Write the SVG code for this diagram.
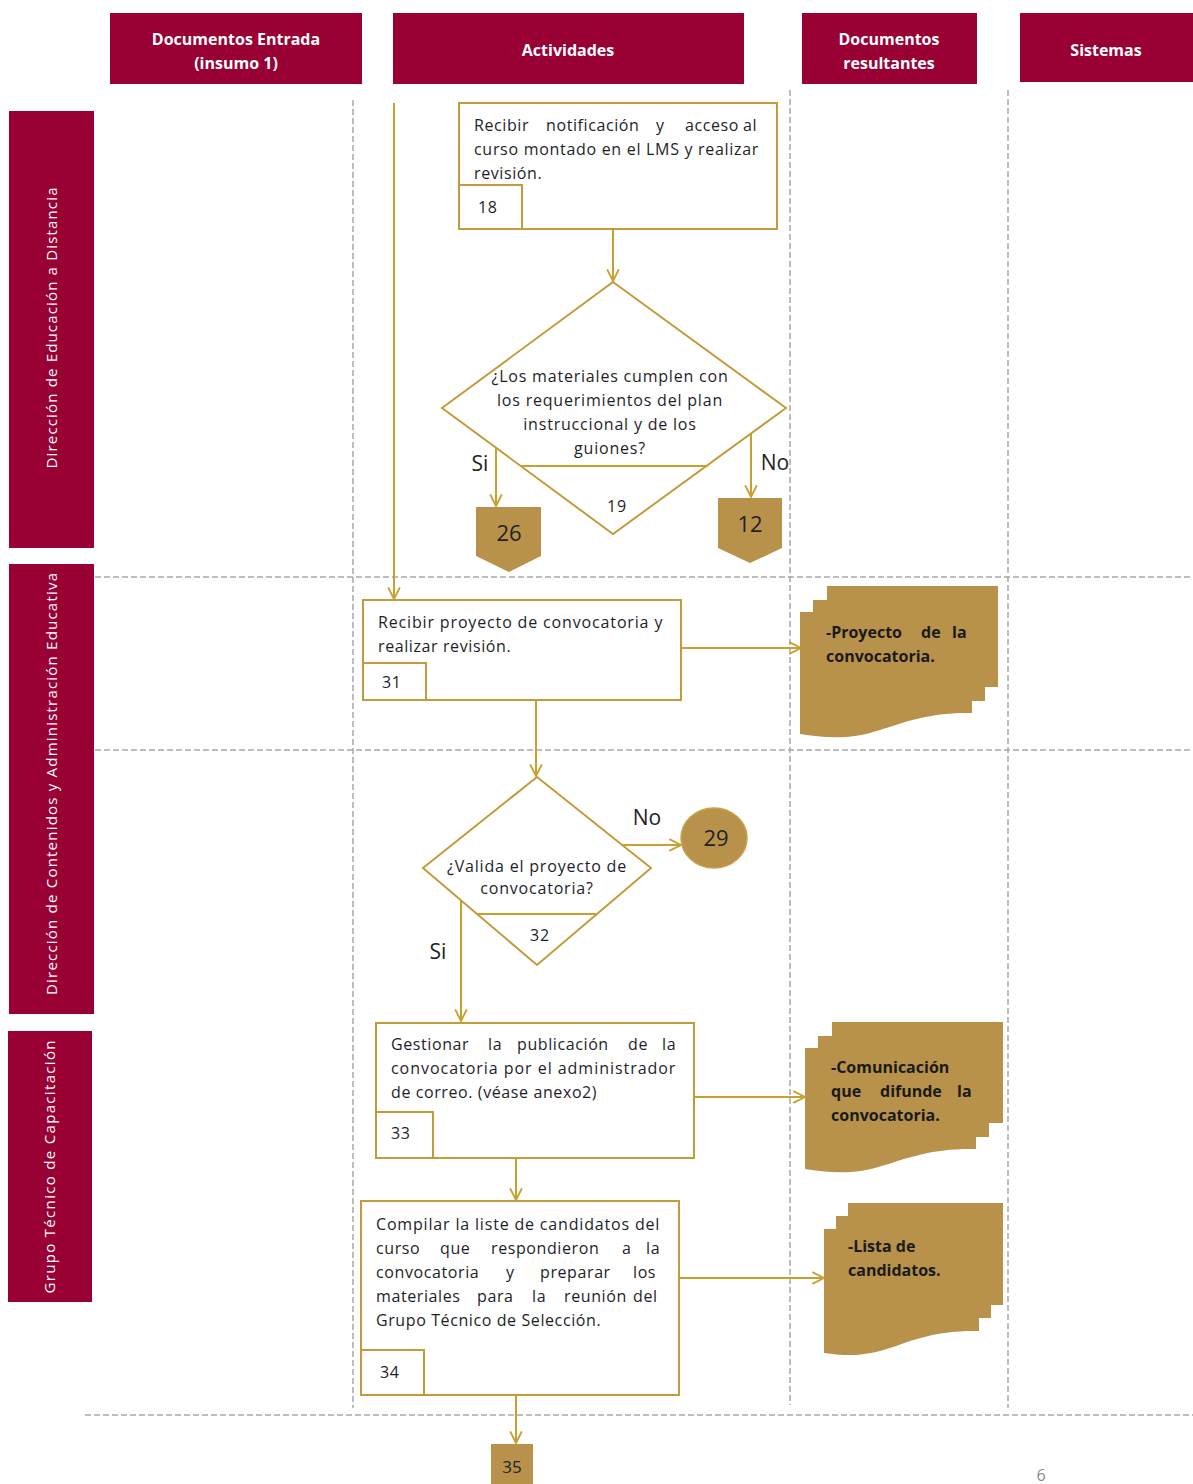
<svg xmlns="http://www.w3.org/2000/svg" width="1193" height="1484" viewBox="0 0 1193 1484">
<style>
.hdr{fill:#990033;}
.ht{font-family:"Open Sans","Liberation Sans",sans-serif;font-size:16px;font-weight:bold;fill:#ffffff;text-anchor:middle;}
.lt{font-family:"Open Sans","Liberation Sans",sans-serif;font-size:15px;fill:#ffffff;text-anchor:middle;}
.box{fill:#ffffff;stroke:#c49b3b;stroke-width:2;}
.tx{font-family:"Open Sans","Liberation Sans",sans-serif;font-size:16px;letter-spacing:0.6px;fill:#1e1e2a;}
.txc{font-family:"Open Sans","Liberation Sans",sans-serif;font-size:16px;letter-spacing:0.8px;fill:#1e1e2a;text-anchor:middle;}
.dt{font-family:"Open Sans","Liberation Sans",sans-serif;font-size:16px;font-weight:bold;fill:#1a1a1a;}
.big{font-family:"Open Sans","Liberation Sans",sans-serif;font-size:22px;fill:#222222;text-anchor:middle;}
.yn{font-family:"Open Sans","Liberation Sans",sans-serif;font-size:21px;fill:#222222;text-anchor:middle;}
.gold{fill:#b8924a;}
.dash{stroke:#a8a8a8;stroke-width:1.5;stroke-dasharray:6 3;fill:none;}
.con{stroke:#c8a02f;stroke-width:2;fill:none;}
</style>
<defs>
<marker id="arr" viewBox="0 0 12 12" refX="11" refY="6" markerWidth="14" markerHeight="14" markerUnits="userSpaceOnUse" orient="auto">
<path d="M1,1 L11,6 L1,11" fill="none" stroke="#c8a02f" stroke-width="1.6"/>
</marker>
</defs>
<rect width="1193" height="1484" fill="#ffffff"/>

<g id="headers">
<rect class="hdr" x="110" y="13" width="252" height="71"/>
<text class="ht" x="236" y="45">Documentos Entrada</text>
<text class="ht" x="236" y="69">(insumo 1)</text>
<rect class="hdr" x="393" y="13" width="351" height="71"/>
<text class="ht" x="568" y="56">Actividades</text>
<rect class="hdr" x="802" y="13" width="175" height="71"/>
<text class="ht" x="889" y="45">Documentos</text>
<text class="ht" x="889" y="69">resultantes</text>
<rect class="hdr" x="1020" y="13" width="173" height="69"/>
<text class="ht" x="1106" y="56">Sistemas</text>
</g>

<g id="lanes">
<rect class="hdr" x="9" y="111" width="85" height="437"/>
<text class="lt" transform="translate(57,328) rotate(-90)" textLength="281" lengthAdjust="spacing">Dirección de Educación a Distancia</text>
<rect class="hdr" x="9" y="564" width="85" height="450"/>
<text class="lt" transform="translate(57,784) rotate(-90)" textLength="422" lengthAdjust="spacing">Dirección de Contenidos y Administración Educativa</text>
<rect class="hdr" x="8" y="1031" width="84" height="271"/>
<text class="lt" transform="translate(55,1167) rotate(-90)" textLength="253" lengthAdjust="spacing">Grupo Técnico de Capacitación</text>
</g>

<g id="gridlines">
<line class="dash" x1="353" y1="100" x2="353" y2="1408"/>
<line class="dash" x1="790" y1="90" x2="790" y2="1405"/>
<line class="dash" x1="1008" y1="90" x2="1008" y2="1408"/>
<line class="dash" x1="95" y1="577" x2="1193" y2="577"/>
<line class="dash" x1="95" y1="750" x2="1193" y2="750"/>
<line class="dash" x1="85" y1="1415" x2="1193" y2="1415"/>
</g>

<g id="connectors">
<line class="con" x1="394" y1="103" x2="394" y2="599" marker-end="url(#arr)"/>
<line class="con" x1="613" y1="229" x2="613" y2="281" marker-end="url(#arr)"/>
<line class="con" x1="496" y1="448" x2="496" y2="506" marker-end="url(#arr)"/>
<line class="con" x1="751" y1="434" x2="751" y2="497" marker-end="url(#arr)"/>
<line class="con" x1="681" y1="648" x2="801" y2="648" marker-end="url(#arr)"/>
<line class="con" x1="536" y1="700" x2="536" y2="776" marker-end="url(#arr)"/>
<line class="con" x1="622" y1="845" x2="681" y2="845" marker-end="url(#arr)"/>
<line class="con" x1="461" y1="900" x2="461" y2="1021" marker-end="url(#arr)"/>
<line class="con" x1="694" y1="1097" x2="805" y2="1097" marker-end="url(#arr)"/>
<line class="con" x1="516" y1="1158" x2="516" y2="1200" marker-end="url(#arr)"/>
<line class="con" x1="679" y1="1278" x2="824" y2="1278" marker-end="url(#arr)"/>
<line class="con" x1="516" y1="1395" x2="516" y2="1443" marker-end="url(#arr)"/>
<text class="yn" x="480" y="471">Si</text>
<text class="yn" x="775" y="470">No</text>
<text class="yn" x="647" y="825">No</text>
<text class="yn" x="438" y="959">Si</text>
</g>

<g id="n18">
<rect class="box" x="459" y="103" width="318" height="126"/>
<text class="tx" y="131"><tspan x="474">Recibir</tspan> <tspan x="546">notificación</tspan> <tspan x="656">y</tspan> <tspan x="685">acceso</tspan> <tspan x="743">al</tspan></text>
<text class="tx" x="474" y="155" textLength="285" lengthAdjust="spacing">curso montado en el LMS y realizar</text>
<text class="tx" x="474" y="179">revisión.</text>
<rect class="box" x="459" y="185" width="63" height="44"/>
<text class="tx" x="478" y="213">18</text>
</g>

<g id="n19">
<polygon class="box" points="613,282 786,408 613,534 442,408"/>
<line class="con" x1="520" y1="466" x2="708" y2="466"/>
<text class="txc" x="610" y="382">¿Los materiales cumplen con</text>
<text class="txc" x="610" y="406">los requerimientos del plan</text>
<text class="txc" x="610" y="430">instruccional y de los</text>
<text class="txc" x="610" y="454">guiones?</text>
<text class="txc" x="617" y="512">19</text>
</g>

<g id="c26">
<path class="gold" d="M476,507 H541 V556 L509,572 L476,556 Z"/>
<text class="big" x="509" y="541">26</text>
</g>

<g id="c12">
<path class="gold" d="M718,498 H782 V548 L750,563 L718,548 Z"/>
<text class="big" x="750" y="532">12</text>
</g>

<g id="n31">
<rect class="box" x="363" y="600" width="318" height="100"/>
<text class="tx" x="378" y="628" textLength="285" lengthAdjust="spacing">Recibir proyecto de convocatoria y</text>
<text class="tx" x="378" y="652">realizar revisión.</text>
<rect class="box" x="363" y="663" width="63" height="37"/>
<text class="tx" x="382" y="688">31</text>
</g>

<g id="d31">
<path class="gold" d="M827,586 H998 V687 H827 Z"/>
<path class="gold" d="M813,600 H985 V701 H813 Z"/>
<path class="gold" d="M800,612 H972 V713 C930,712 905,722 880,730 C850,740 825,738 800,734 Z"/>
<text class="dt" y="638"><tspan x="826">-Proyecto</tspan> <tspan x="921">de</tspan> <tspan x="952">la</tspan></text>
<text class="dt" x="826" y="662">convocatoria.</text>
</g>

<g id="n32">
<polygon class="box" points="537,777 651,868 537,965 423,868"/>
<line class="con" x1="477" y1="914" x2="597" y2="914"/>
<text class="txc" x="537" y="872">¿Valida el proyecto de</text>
<text class="txc" x="537" y="894">convocatoria?</text>
<text class="txc" x="540" y="941">32</text>
</g>

<g id="c29">
<ellipse cx="714" cy="838" rx="33" ry="30" fill="#b8924a" stroke="#c9a24a" stroke-width="1.5"/>
<text class="big" x="716" y="846">29</text>
</g>

<g id="n33">
<rect class="box" x="376" y="1023" width="318" height="135"/>
<text class="tx" y="1050"><tspan x="391">Gestionar</tspan> <tspan x="488">la</tspan> <tspan x="517">publicación</tspan> <tspan x="628">de</tspan> <tspan x="662">la</tspan></text>
<text class="tx" x="391" y="1074" textLength="285" lengthAdjust="spacing">convocatoria por el administrador</text>
<text class="tx" x="391" y="1098">de correo. (véase anexo2)</text>
<rect class="box" x="376" y="1112" width="57" height="46"/>
<text class="tx" x="391" y="1139">33</text>
</g>

<g id="d33">
<path class="gold" d="M832,1022 H1003 V1123 H832 Z"/>
<path class="gold" d="M818,1036 H989 V1137 H818 Z"/>
<path class="gold" d="M805,1048 H976 V1149 C935,1148 910,1157 885,1165 C855,1175 830,1173 805,1169 Z"/>
<text class="dt" x="831" y="1073">-Comunicación</text>
<text class="dt" y="1097"><tspan x="831">que</tspan> <tspan x="880">difunde</tspan> <tspan x="957">la</tspan></text>
<text class="dt" x="831" y="1121">convocatoria.</text>
</g>

<g id="n34">
<rect class="box" x="361" y="1201" width="318" height="194"/>
<text class="tx" x="376" y="1230" textLength="284" lengthAdjust="spacing">Compilar la liste de candidatos del</text>
<text class="tx" y="1254"><tspan x="376">curso</tspan> <tspan x="440">que</tspan> <tspan x="491">respondieron</tspan> <tspan x="622">a</tspan> <tspan x="646">la</tspan></text>
<text class="tx" y="1278"><tspan x="376">convocatoria</tspan> <tspan x="506">y</tspan> <tspan x="540">preparar</tspan> <tspan x="633">los</tspan></text>
<text class="tx" y="1302"><tspan x="376">materiales</tspan> <tspan x="477">para</tspan> <tspan x="532">la</tspan> <tspan x="564">reunión</tspan> <tspan x="633">del</tspan></text>
<text class="tx" x="376" y="1326">Grupo Técnico de Selección.</text>
<rect class="box" x="361" y="1350" width="63" height="45"/>
<text class="tx" x="380" y="1378">34</text>
</g>

<g id="d34">
<path class="gold" d="M848,1203 H1003 V1305 H848 Z"/>
<path class="gold" d="M836,1216 H991 V1318 H836 Z"/>
<path class="gold" d="M824,1229 H979 V1331 C940,1330 915,1339 893,1347 C865,1357 845,1356 824,1353 Z"/>
<text class="dt" x="848" y="1252">-Lista de</text>
<text class="dt" x="848" y="1276">candidatos.</text>
</g>

<g id="c35">
<rect class="gold" x="491" y="1444" width="42" height="40"/>
<text x="512" y="1473" style="font-family:'Open Sans','Liberation Sans',sans-serif;font-size:17px;fill:#222;text-anchor:middle;">35</text>
</g>

<text x="1041" y="1481" style="font-family:'Open Sans','Liberation Sans',sans-serif;font-size:16px;fill:#8a8a8a;text-anchor:middle;">6</text>
</svg>
